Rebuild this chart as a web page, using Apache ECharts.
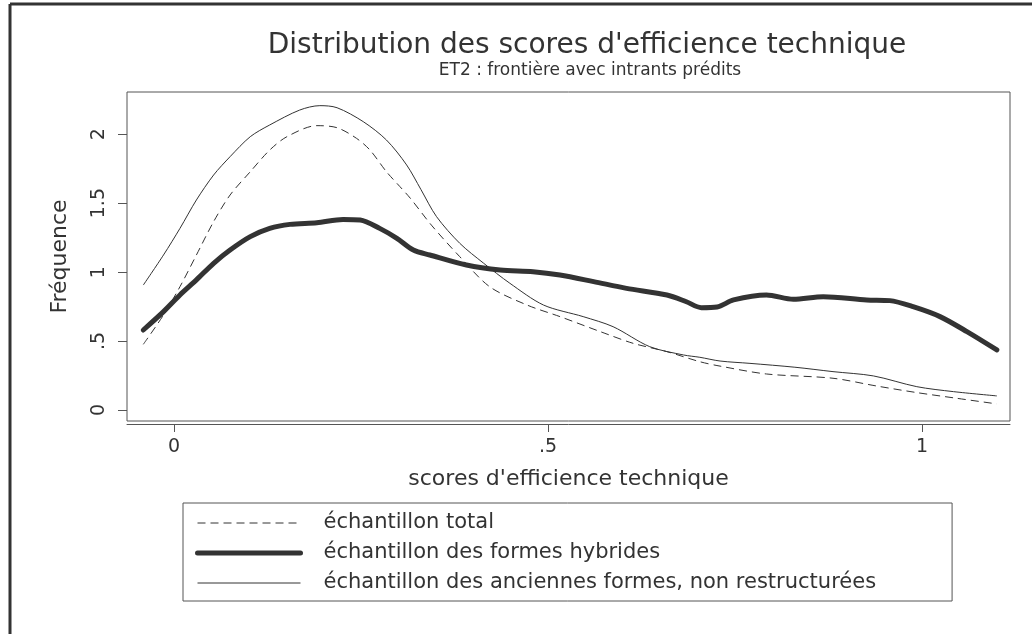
<!DOCTYPE html>
<html>
<head>
<meta charset="utf-8">
<script src="https://cdn.jsdelivr.net/npm/echarts@6/dist/echarts.min.js"></script>
<style>
html,body{margin:0;padding:0;background:#fff;}
#chart{width:1032px;height:634px;}
</style>
</head>
<body>
<div id="chart"></div>
<script>
// ---- data ----
const seriesNames = [
  'échantillon total',
  'échantillon des formes hybrides',
  'échantillon des anciennes formes, non restructurées'
];

const xTotal = [-0.041, -0.014, 0.008, 0.030, 0.053, 0.075, 0.102, 0.128, 0.151, 0.191, 0.218, 0.244, 0.262, 0.284, 0.302, 0.316, 0.345, 0.382, 0.422, 0.472, 0.516, 0.570, 0.614, 0.659, 0.703, 0.730, 0.792, 0.881, 0.939, 0.993, 1.046, 1.100];
const yTotal = [0.476, 0.689, 0.894, 1.124, 1.366, 1.559, 1.728, 1.885, 1.982, 2.062, 2.047, 1.970, 1.885, 1.728, 1.620, 1.535, 1.335, 1.112, 0.894, 0.761, 0.677, 0.568, 0.483, 0.423, 0.350, 0.318, 0.261, 0.230, 0.174, 0.126, 0.085, 0.044];

const xHybrid = [-0.041, -0.014, 0.008, 0.030, 0.053, 0.075, 0.102, 0.128, 0.155, 0.191, 0.226, 0.249, 0.275, 0.298, 0.320, 0.342, 0.391, 0.436, 0.480, 0.516, 0.561, 0.605, 0.659, 0.685, 0.705, 0.726, 0.748, 0.792, 0.828, 0.868, 0.926, 0.957, 0.988, 1.024, 1.060, 1.100];
const yHybrid = [0.580, 0.713, 0.834, 0.943, 1.064, 1.160, 1.257, 1.317, 1.346, 1.358, 1.382, 1.378, 1.317, 1.245, 1.160, 1.124, 1.051, 1.015, 1.003, 0.979, 0.931, 0.882, 0.834, 0.785, 0.742, 0.747, 0.798, 0.834, 0.803, 0.822, 0.798, 0.793, 0.749, 0.677, 0.568, 0.435];

const xOld = [-0.041, -0.014, 0.008, 0.030, 0.053, 0.075, 0.102, 0.128, 0.168, 0.195, 0.218, 0.253, 0.284, 0.311, 0.330, 0.351, 0.382, 0.414, 0.449, 0.494, 0.547, 0.587, 0.636, 0.681, 0.703, 0.730, 0.770, 0.830, 0.881, 0.935, 0.993, 1.042, 1.100];
const yOld = [0.906, 1.124, 1.317, 1.523, 1.704, 1.837, 1.982, 2.067, 2.175, 2.207, 2.192, 2.091, 1.958, 1.777, 1.600, 1.402, 1.209, 1.064, 0.919, 0.761, 0.677, 0.604, 0.459, 0.399, 0.382, 0.355, 0.338, 0.310, 0.278, 0.247, 0.169, 0.133, 0.102];

const xTickValues = [0, 0.5, 1];
const xTickLabels = ['0', '.5', '1'];
const yTickValues = [0, 0.5, 1, 1.5, 2];
const yTickLabels = ['0', '.5', '1', '1.5', '2'];

const titleText = "Distribution des scores d'efficience technique";
const subtitleText = 'ET2 : frontière avec intrants prédits';
const xAxisTitle = "scores d'efficience technique";
const yAxisTitle = 'Fréquence';

// ---- build ----
const pairs = (xs, ys) => xs.map((x, i) => [x, ys[i]]);
const labelFor = (vals, labels) => v => {
  for (let i = 0; i < vals.length; i++) if (Math.abs(vals[i] - v) < 1e-9) return labels[i];
  return '';
};
const FONT = 'DejaVu Sans';
const INK = '#333333';

const chart = echarts.init(document.getElementById('chart'), null, {renderer: 'canvas'});
chart.setOption({
  backgroundColor: '#ffffff',
  animation: false,
  title: [
    {text: titleText, left: 582, top: 27, textAlign: 'center',
     textStyle: {fontFamily: FONT, fontSize: 28, fontWeight: 'normal', color: INK}},
    {text: subtitleText, left: 585, top: 57, textAlign: 'center',
     textStyle: {fontFamily: FONT, fontSize: 17, fontWeight: 'normal', color: INK}}
  ],
  graphic: [
    {type: 'line', shape: {x1: 10, y1: 4, x2: 1032, y2: 4}, style: {stroke: INK, lineWidth: 3}},
    {type: 'line', shape: {x1: 10, y1: 4, x2: 10, y2: 634}, style: {stroke: INK, lineWidth: 3}}
  ],
  legend: {
    orient: 'vertical',
    left: 183, top: 503,
    padding: [9, 76, 7, 12],
    itemWidth: 103, itemHeight: 14, itemGap: 8,
    borderColor: '#555', borderWidth: 1,
    data: seriesNames,
    itemStyle: {opacity: 0},
    lineStyle: {width: 'inherit', type: 'inherit'},
    textStyle: {fontFamily: FONT, fontSize: 21, lineHeight: 22, color: INK, padding: [0, 0, 0, 18]}
  },
  grid: {left: 127, top: 92, right: 22, bottom: 213, show: true, borderColor: '#555', borderWidth: 1},
  xAxis: {
    type: 'value', min: -0.0628, max: 1.1176,
    offset: 3,
    name: xAxisTitle, nameLocation: 'middle', nameGap: 44,
    nameTextStyle: {fontFamily: FONT, fontSize: 22, color: INK},
    axisLine: {show: true, onZero: false, lineStyle: {color: '#555', width: 1}},
    axisTick: {show: true, length: 8, customValues: xTickValues, lineStyle: {color: '#555'}},
    axisLabel: {show: true, customValues: xTickValues, formatter: labelFor(xTickValues, xTickLabels),
      fontFamily: FONT, fontSize: 19, color: INK, margin: 14},
    splitLine: {show: false}
  },
  yAxis: {
    type: 'value', min: -0.08, max: 2.306,
    name: yAxisTitle, nameLocation: 'middle', nameGap: 56, nameRotate: 90,
    nameTextStyle: {fontFamily: FONT, fontSize: 22, color: INK},
    axisLine: {show: false, onZero: false},
    axisTick: {show: true, length: 9, customValues: yTickValues, lineStyle: {color: '#555'}},
    axisLabel: {show: true, customValues: yTickValues, formatter: labelFor(yTickValues, yTickLabels),
      rotate: 90, fontFamily: FONT, fontSize: 19, color: INK, margin: 18},
    splitLine: {show: false}
  },
  series: [
    {name: seriesNames[0], type: 'line', data: pairs(xTotal, yTotal), symbol: 'none', smooth: 0.3,
     lineStyle: {color: INK, width: 1, type: [8, 5]}, itemStyle: {color: INK}, z: 3},
    {name: seriesNames[1], type: 'line', data: pairs(xHybrid, yHybrid), symbol: 'none', smooth: 0.3,
     lineStyle: {color: INK, width: 5, cap: 'round', join: 'round'}, itemStyle: {color: INK}, z: 4},
    {name: seriesNames[2], type: 'line', data: pairs(xOld, yOld), symbol: 'none', smooth: 0.3,
     lineStyle: {color: INK, width: 1}, itemStyle: {color: INK}, z: 2}
  ]
});
</script>
</body>
</html>
